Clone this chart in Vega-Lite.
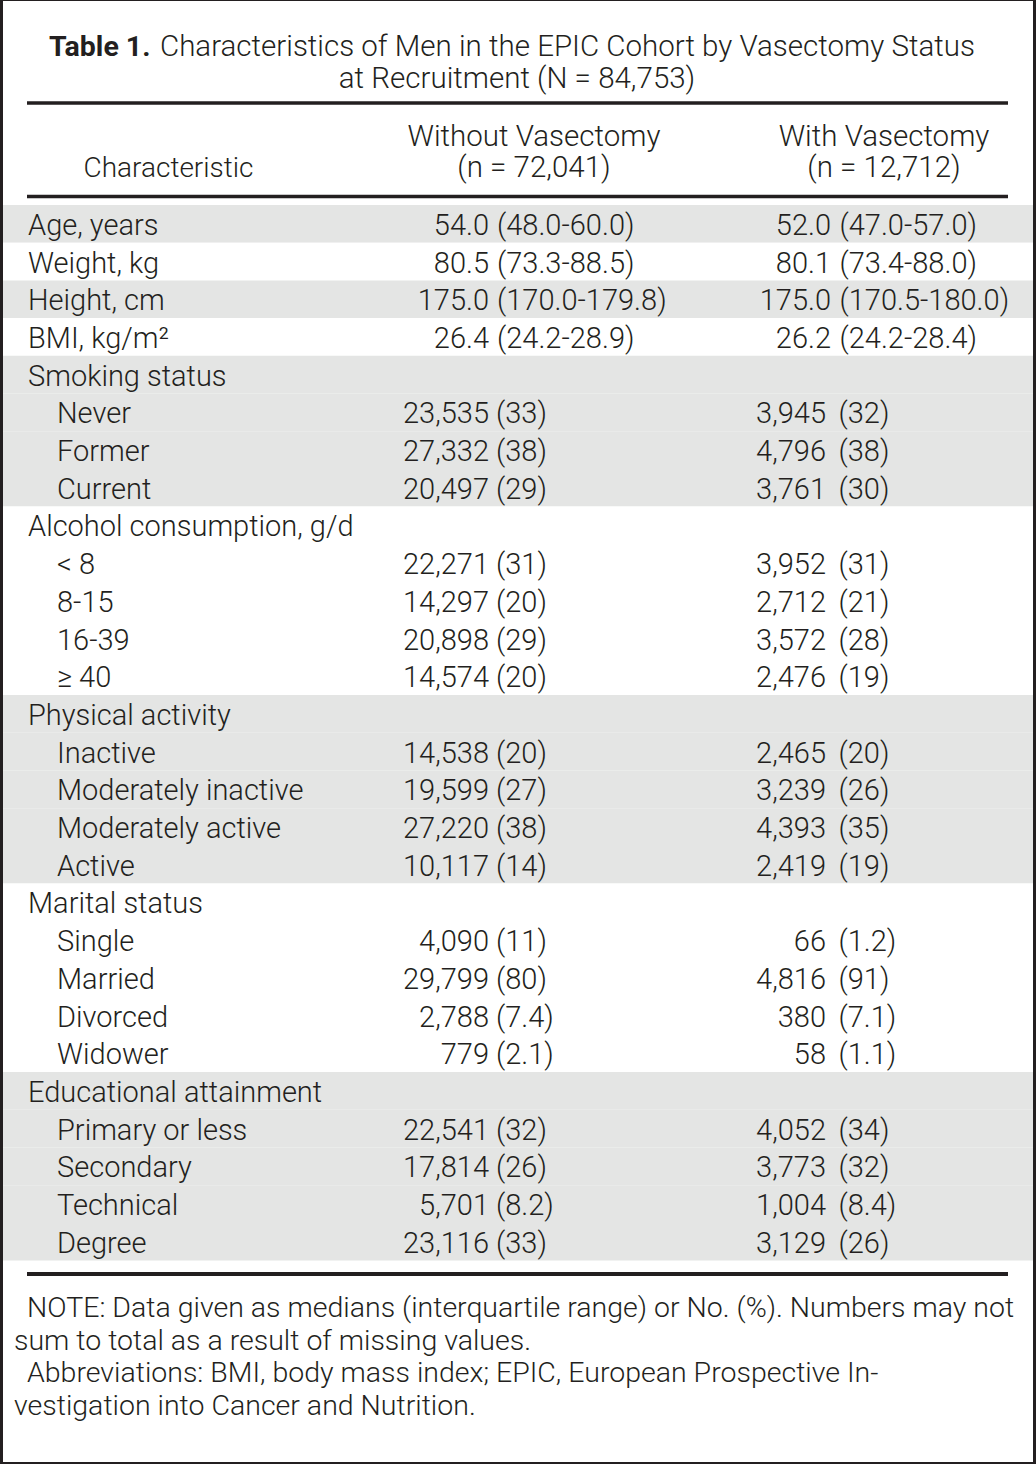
{
  "$schema": "https://vega.github.io/schema/vega-lite/v6.json",
  "width": 1030,
  "height": 1461,
  "autosize": {"type": "none"},
  "padding": {"left": 3, "top": 1, "right": 3, "bottom": 2},
  "background": "#231f20",
  "config": {
    "view": {"fill": "#ffffff", "stroke": null},
    "scale": {"pointPadding": 0},
    "text": {"font": "Roboto", "fontWeight": 300, "fill": "#231f20", "baseline": "alphabetic"}
  },
  "datasets": {
    "rows": [
      {"row": 1, "group": 1, "level": 0, "label": "Age, years", "kind": "median", "v1": "54.0", "q1": "(48.0-60.0)", "v2": "52.0", "q2": "(47.0-57.0)"},
      {"row": 2, "group": 2, "level": 0, "label": "Weight, kg", "kind": "median", "v1": "80.5", "q1": "(73.3-88.5)", "v2": "80.1", "q2": "(73.4-88.0)"},
      {"row": 3, "group": 3, "level": 0, "label": "Height, cm", "kind": "median", "v1": "175.0", "q1": "(170.0-179.8)", "v2": "175.0", "q2": "(170.5-180.0)"},
      {"row": 4, "group": 4, "level": 0, "label": "BMI, kg/m²", "kind": "median", "v1": "26.4", "q1": "(24.2-28.9)", "v2": "26.2", "q2": "(24.2-28.4)"},
      {"row": 5, "group": 5, "level": 0, "label": "Smoking status"},
      {"row": 6, "group": 5, "level": 1, "label": "Never", "kind": "count", "v1": "23,535", "q1": "(33)", "v2": "3,945", "q2": "(32)"},
      {"row": 7, "group": 5, "level": 1, "label": "Former", "kind": "count", "v1": "27,332", "q1": "(38)", "v2": "4,796", "q2": "(38)"},
      {"row": 8, "group": 5, "level": 1, "label": "Current", "kind": "count", "v1": "20,497", "q1": "(29)", "v2": "3,761", "q2": "(30)"},
      {"row": 9, "group": 6, "level": 0, "label": "Alcohol consumption, g/d"},
      {"row": 10, "group": 6, "level": 1, "label": "< 8", "kind": "count", "v1": "22,271", "q1": "(31)", "v2": "3,952", "q2": "(31)"},
      {"row": 11, "group": 6, "level": 1, "label": "8-15", "kind": "count", "v1": "14,297", "q1": "(20)", "v2": "2,712", "q2": "(21)"},
      {"row": 12, "group": 6, "level": 1, "label": "16-39", "kind": "count", "v1": "20,898", "q1": "(29)", "v2": "3,572", "q2": "(28)"},
      {"row": 13, "group": 6, "level": 1, "label": "≥ 40", "kind": "count", "v1": "14,574", "q1": "(20)", "v2": "2,476", "q2": "(19)"},
      {"row": 14, "group": 7, "level": 0, "label": "Physical activity"},
      {"row": 15, "group": 7, "level": 1, "label": "Inactive", "kind": "count", "v1": "14,538", "q1": "(20)", "v2": "2,465", "q2": "(20)"},
      {"row": 16, "group": 7, "level": 1, "label": "Moderately inactive", "kind": "count", "v1": "19,599", "q1": "(27)", "v2": "3,239", "q2": "(26)"},
      {"row": 17, "group": 7, "level": 1, "label": "Moderately active", "kind": "count", "v1": "27,220", "q1": "(38)", "v2": "4,393", "q2": "(35)"},
      {"row": 18, "group": 7, "level": 1, "label": "Active", "kind": "count", "v1": "10,117", "q1": "(14)", "v2": "2,419", "q2": "(19)"},
      {"row": 19, "group": 8, "level": 0, "label": "Marital status"},
      {"row": 20, "group": 8, "level": 1, "label": "Single", "kind": "count", "v1": "4,090", "q1": "(11)", "v2": "66", "q2": "(1.2)"},
      {"row": 21, "group": 8, "level": 1, "label": "Married", "kind": "count", "v1": "29,799", "q1": "(80)", "v2": "4,816", "q2": "(91)"},
      {"row": 22, "group": 8, "level": 1, "label": "Divorced", "kind": "count", "v1": "2,788", "q1": "(7.4)", "v2": "380", "q2": "(7.1)"},
      {"row": 23, "group": 8, "level": 1, "label": "Widower", "kind": "count", "v1": "779", "q1": "(2.1)", "v2": "58", "q2": "(1.1)"},
      {"row": 24, "group": 9, "level": 0, "label": "Educational attainment"},
      {"row": 25, "group": 9, "level": 1, "label": "Primary or less", "kind": "count", "v1": "22,541", "q1": "(32)", "v2": "4,052", "q2": "(34)"},
      {"row": 26, "group": 9, "level": 1, "label": "Secondary", "kind": "count", "v1": "17,814", "q1": "(26)", "v2": "3,773", "q2": "(32)"},
      {"row": 27, "group": 9, "level": 1, "label": "Technical", "kind": "count", "v1": "5,701", "q1": "(8.2)", "v2": "1,004", "q2": "(8.4)"},
      {"row": 28, "group": 9, "level": 1, "label": "Degree", "kind": "count", "v1": "23,116", "q1": "(33)", "v2": "3,129", "q2": "(26)"}
    ],
    "header": [
      {"line": 1, "col": "without", "text": "Without Vasectomy"},
      {"line": 2, "col": "without", "text": "(n = 72,041)"},
      {"line": 1, "col": "with", "text": "With Vasectomy"},
      {"line": 2, "col": "with", "text": "(n = 12,712)"}
    ],
    "stub": [{"line": 2, "text": "Characteristic"}],
    "tlabel": [{"line": 1, "text": "Table 1."}],
    "title1": [{"line": 1, "text": "Characteristics of Men in the EPIC Cohort by Vasectomy Status"}],
    "title2": [{"line": 2, "text": "at Recruitment (N = 84,753)"}],
    "notes": [
      {"line": 1, "start": "first", "text": "NOTE: Data given as medians (interquartile range) or No. (%). Numbers may not"},
      {"line": 2, "start": "cont", "text": "sum to total as a result of missing values."},
      {"line": 3, "start": "first", "text": "Abbreviations: BMI, body mass index; EPIC, European Prospective In-"},
      {"line": 4, "start": "cont", "text": "vestigation into Cancer and Nutrition."}
    ],
    "rules": [{"rule": "top"}, {"rule": "head"}, {"rule": "bottom"}]
  },
  "layer": [
    {
      "data": {"name": "rows"},
      "mark": {"type": "rect"},
      "encoding": {
        "y": {"field": "row", "type": "ordinal", "axis": null,
              "scale": {"type": "band", "domain": [1,2,3,4,5,6,7,8,9,10,11,12,13,14,15,16,17,18,19,20,21,22,23,24,25,26,27,28], "range": [204, 1259.6], "paddingInner": 0, "paddingOuter": 0}},
        "fill": {"field": "group", "type": "ordinal", "legend": null,
                 "scale": {"domain": [1,2,3,4,5,6,7,8,9], "range": ["#e4e5e4","#ffffff","#e4e5e4","#ffffff","#e4e5e4","#ffffff","#e4e5e4","#ffffff","#e4e5e4"]}}
      }
    },
    {
      "data": {"name": "rules"},
      "transform": [{"filter": "datum.rule === 'top'"}],
      "mark": {"type": "rule", "stroke": "#231f20", "strokeWidth": 3.5},
      "encoding": {
        "y": {"field": "rule", "type": "nominal", "axis": null, "scale": {"type": "point", "padding": 0, "domain": ["top"], "range": [102, 102]}},
        "x": {"datum": "start", "type": "nominal", "axis": null, "scale": {"type": "point", "padding": 0, "domain": ["start", "end"], "range": [24, 1005]}},
        "x2": {"datum": "end"}
      }
    },
    {
      "data": {"name": "rules"},
      "transform": [{"filter": "datum.rule === 'head'"}],
      "mark": {"type": "rule", "stroke": "#231f20", "strokeWidth": 3.5},
      "encoding": {
        "y": {"field": "rule", "type": "nominal", "axis": null, "scale": {"type": "point", "padding": 0, "domain": ["head"], "range": [195.5, 195.5]}},
        "x": {"datum": "start", "type": "nominal", "axis": null, "scale": {"type": "point", "padding": 0, "domain": ["start", "end"], "range": [24, 1005]}},
        "x2": {"datum": "end"}
      }
    },
    {
      "data": {"name": "rules"},
      "transform": [{"filter": "datum.rule === 'bottom'"}],
      "mark": {"type": "rule", "stroke": "#231f20", "strokeWidth": 4},
      "encoding": {
        "y": {"field": "rule", "type": "nominal", "axis": null, "scale": {"type": "point", "padding": 0, "domain": ["bottom"], "range": [1273, 1273]}},
        "x": {"datum": "start", "type": "nominal", "axis": null, "scale": {"type": "point", "padding": 0, "domain": ["start", "end"], "range": [24, 1005]}},
        "x2": {"datum": "end"}
      }
    },
    {
      "data": {"name": "tlabel"},
      "mark": {"type": "text", "align": "left", "fontSize": 28.5, "fontWeight": "bold"},
      "encoding": {
        "y": {"field": "line", "type": "ordinal", "axis": null, "scale": {"type": "point", "padding": 0, "domain": [1], "range": [55, 55]}},
        "x": {"field": "line", "type": "ordinal", "axis": null, "scale": {"type": "point", "padding": 0, "domain": [1], "range": [46, 46]}},
        "text": {"field": "text", "type": "nominal"}
      }
    },
    {
      "data": {"name": "title1"},
      "mark": {"type": "text", "align": "left", "fontSize": 29.5},
      "encoding": {
        "y": {"field": "line", "type": "ordinal", "axis": null, "scale": {"type": "point", "padding": 0, "domain": [1], "range": [55, 55]}},
        "x": {"field": "line", "type": "ordinal", "axis": null, "scale": {"type": "point", "padding": 0, "domain": [1], "range": [157, 157]}},
        "text": {"field": "text", "type": "nominal"}
      }
    },
    {
      "data": {"name": "title2"},
      "mark": {"type": "text", "align": "center", "fontSize": 29.5},
      "encoding": {
        "y": {"field": "line", "type": "ordinal", "axis": null, "scale": {"type": "point", "padding": 0, "domain": [2], "range": [87, 87]}},
        "x": {"field": "line", "type": "ordinal", "axis": null, "scale": {"type": "point", "padding": 0, "domain": [2], "range": [514, 514]}},
        "text": {"field": "text", "type": "nominal"}
      }
    },
    {
      "data": {"name": "header"},
      "mark": {"type": "text", "align": "center", "fontSize": 29.5},
      "encoding": {
        "y": {"field": "line", "type": "ordinal", "axis": null, "scale": {"type": "point", "padding": 0, "domain": [1, 2], "range": [145, 176]}},
        "x": {"field": "col", "type": "nominal", "axis": null, "scale": {"type": "point", "padding": 0, "domain": ["without", "with"], "range": [531, 881]}},
        "text": {"field": "text", "type": "nominal"}
      }
    },
    {
      "data": {"name": "stub"},
      "mark": {"type": "text", "align": "center", "fontSize": 28},
      "encoding": {
        "y": {"field": "line", "type": "ordinal", "axis": null, "scale": {"type": "point", "padding": 0, "domain": [2], "range": [176, 176]}},
        "x": {"field": "line", "type": "ordinal", "axis": null, "scale": {"type": "point", "padding": 0, "domain": [2], "range": [165.5, 165.5]}},
        "text": {"field": "text", "type": "nominal"}
      }
    },
    {
      "data": {"name": "rows"},
      "mark": {"type": "text", "align": "left", "fontSize": 29, "dy": 11},
      "encoding": {
        "y": {"field": "row", "type": "ordinal", "axis": null,
              "scale": {"type": "band", "domain": [1,2,3,4,5,6,7,8,9,10,11,12,13,14,15,16,17,18,19,20,21,22,23,24,25,26,27,28], "range": [204, 1259.6], "paddingInner": 0, "paddingOuter": 0}},
        "x": {"field": "level", "type": "ordinal", "axis": null, "scale": {"type": "point", "padding": 0, "domain": [0, 1], "range": [25, 54]}},
        "text": {"field": "label", "type": "nominal"}
      }
    },
    {
      "data": {"name": "rows"},
      "transform": [{"filter": "isValid(datum.v1)"}],
      "mark": {"type": "text", "align": "right", "fontSize": 29, "dy": 11},
      "encoding": {
        "y": {"field": "row", "type": "ordinal", "axis": null,
              "scale": {"type": "band", "domain": [1,2,3,4,5,6,7,8,9,10,11,12,13,14,15,16,17,18,19,20,21,22,23,24,25,26,27,28], "range": [204, 1259.6], "paddingInner": 0, "paddingOuter": 0}},
        "x": {"field": "kind", "type": "nominal", "axis": null, "scale": {"type": "point", "padding": 0, "domain": ["median", "count"], "range": [486, 486]}},
        "text": {"field": "v1", "type": "nominal"}
      }
    },
    {
      "data": {"name": "rows"},
      "transform": [{"filter": "isValid(datum.q1)"}],
      "mark": {"type": "text", "align": "left", "fontSize": 29, "dy": 11},
      "encoding": {
        "y": {"field": "row", "type": "ordinal", "axis": null,
              "scale": {"type": "band", "domain": [1,2,3,4,5,6,7,8,9,10,11,12,13,14,15,16,17,18,19,20,21,22,23,24,25,26,27,28], "range": [204, 1259.6], "paddingInner": 0, "paddingOuter": 0}},
        "x": {"field": "kind", "type": "nominal", "axis": null, "scale": {"type": "point", "padding": 0, "domain": ["median", "count"], "range": [494, 493]}},
        "text": {"field": "q1", "type": "nominal"}
      }
    },
    {
      "data": {"name": "rows"},
      "transform": [{"filter": "isValid(datum.v2)"}],
      "mark": {"type": "text", "align": "right", "fontSize": 29, "dy": 11},
      "encoding": {
        "y": {"field": "row", "type": "ordinal", "axis": null,
              "scale": {"type": "band", "domain": [1,2,3,4,5,6,7,8,9,10,11,12,13,14,15,16,17,18,19,20,21,22,23,24,25,26,27,28], "range": [204, 1259.6], "paddingInner": 0, "paddingOuter": 0}},
        "x": {"field": "kind", "type": "nominal", "axis": null, "scale": {"type": "point", "padding": 0, "domain": ["median", "count"], "range": [828, 823]}},
        "text": {"field": "v2", "type": "nominal"}
      }
    },
    {
      "data": {"name": "rows"},
      "transform": [{"filter": "isValid(datum.q2)"}],
      "mark": {"type": "text", "align": "left", "fontSize": 29, "dy": 11},
      "encoding": {
        "y": {"field": "row", "type": "ordinal", "axis": null,
              "scale": {"type": "band", "domain": [1,2,3,4,5,6,7,8,9,10,11,12,13,14,15,16,17,18,19,20,21,22,23,24,25,26,27,28], "range": [204, 1259.6], "paddingInner": 0, "paddingOuter": 0}},
        "x": {"field": "kind", "type": "nominal", "axis": null, "scale": {"type": "point", "padding": 0, "domain": ["median", "count"], "range": [836.5, 835.5]}},
        "text": {"field": "q2", "type": "nominal"}
      }
    },
    {
      "data": {"name": "notes"},
      "mark": {"type": "text", "align": "left", "fontSize": 28.5},
      "encoding": {
        "y": {"field": "line", "type": "ordinal", "axis": null, "scale": {"type": "point", "padding": 0, "domain": [1, 2, 3, 4], "range": [1316, 1414]}},
        "x": {"field": "start", "type": "nominal", "axis": null, "scale": {"type": "point", "padding": 0, "domain": ["cont", "first"], "range": [11, 24]}},
        "text": {"field": "text", "type": "nominal"}
      }
    }
  ],
  "resolve": {"scale": {"x": "independent", "y": "independent", "fill": "independent"}}
}
